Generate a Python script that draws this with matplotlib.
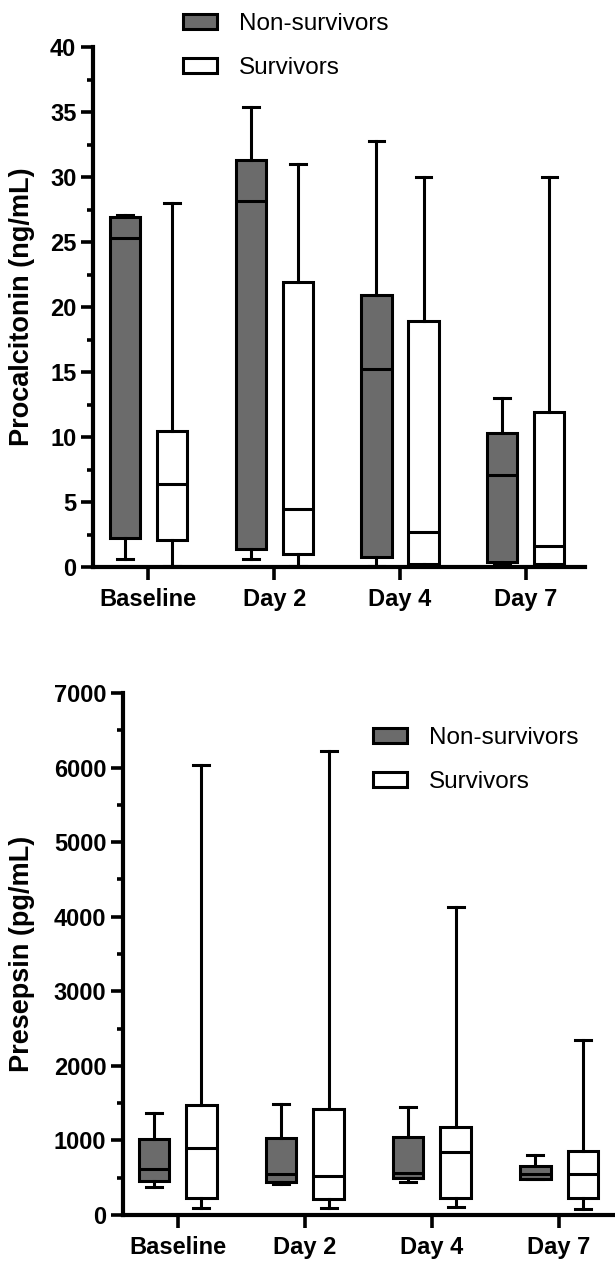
import numpy as np
import matplotlib
matplotlib.use("Agg")
from matplotlib import pyplot as plt
from matplotlib.patches import Patch
from matplotlib.ticker import MultipleLocator

plt.rcParams['font.family'] = ['Liberation Sans', 'DejaVu Sans']

days = ["Baseline", "Day 2", "Day 4", "Day 7"]
groups = ["Non-survivors", "Survivors"]

# Procalcitonin (ng/mL): min, Q1, median, Q3, max
pct_ns_min = [0.6, 0.65, 0.1, 0.2]
pct_ns_q1 = [2.2, 1.4, 0.8, 0.4]
pct_ns_med = [25.3, 28.15, 15.2, 7.1]
pct_ns_q3 = [26.9, 31.3, 20.9, 10.3]
pct_ns_max = [27.1, 35.4, 32.8, 13.0]
pct_s_min = [0.05, 0.05, 0.05, 0.05]
pct_s_q1 = [2.1, 1.0, 0.2, 0.2]
pct_s_med = [6.4, 4.5, 2.7, 1.6]
pct_s_q3 = [10.5, 21.9, 18.9, 11.9]
pct_s_max = [28.0, 31.0, 30.0, 30.0]

# Presepsin (pg/mL): min, Q1, median, Q3, max
pse_ns_min = [380, 420, 442, 478]
pse_ns_q1 = [455, 442, 500, 487]
pse_ns_med = [612, 545, 558, 545]
pse_ns_q3 = [1022, 1027, 1045, 656]
pse_ns_max = [1370, 1491, 1446, 799]
pse_s_min = [98, 89, 107, 85]
pse_s_q1 = [223, 214, 232, 232]
pse_s_med = [893, 527, 848, 545]
pse_s_q3 = [1473, 1424, 1183, 857]
pse_s_max = [6035, 6220, 4130, 2344]

GRAY = '#6b6b6b'
LW = 2.2


def stats(lo, q1, med, q3, hi):
    return [dict(whislo=a, q1=b, med=c, q3=d, whishi=e, fliers=[])
            for a, b, c, d, e in zip(lo, q1, med, q3, hi)]


def draw(ax, ns, s, ymax, major, minor, ylabel):
    x = np.arange(len(days))
    off = 0.187
    for st, pos, fc in [(ns, x - off, GRAY), (s, x + off, 'white')]:
        ax.bxp(st, positions=pos, widths=0.24, capwidths=0.125,
               patch_artist=True, showfliers=False,
               boxprops=dict(facecolor=fc, edgecolor='black', linewidth=LW),
               medianprops=dict(color='black', linewidth=LW),
               whiskerprops=dict(color='black', linewidth=LW),
               capprops=dict(color='black', linewidth=LW))
    ax.set_ylim(0, ymax)
    ax.yaxis.set_major_locator(MultipleLocator(major))
    ax.yaxis.set_minor_locator(MultipleLocator(minor))
    ax.set_xticks(x)
    ax.set_xticklabels(days, fontsize=17, fontweight='bold')
    for lab in ax.get_yticklabels():
        lab.set_fontsize(17)
        lab.set_fontweight('bold')
    ax.spines['top'].set_visible(False)
    ax.spines['right'].set_visible(False)
    ax.spines['left'].set_linewidth(3)
    ax.spines['bottom'].set_linewidth(3)
    ax.tick_params(axis='y', which='major', length=9, width=2.6, pad=3)
    ax.tick_params(axis='x', which='major', length=9, width=2.6, pad=6)
    ax.tick_params(axis='y', which='minor', length=4.5, width=2.6)
    ax.tick_params(axis='x', which='minor', length=0)
    ax.set_ylabel(ylabel, fontsize=19.5, fontweight='bold')


def add_legend(ax, fig, x0, y0):
    handles = [Patch(facecolor=GRAY, edgecolor='black', linewidth=LW),
               Patch(facecolor='white', edgecolor='black', linewidth=LW)]
    ax.legend(handles, groups, loc='upper left', frameon=False,
              bbox_to_anchor=(x0 / 615, 1 - y0 / 1262), bbox_transform=fig.transFigure,
              fontsize=17.5, handlelength=1.4, handleheight=0.6, handletextpad=0.9,
              labelspacing=0.9, borderpad=0, borderaxespad=0)


fig = plt.figure(figsize=(6.15, 12.62), dpi=100)
ax1 = fig.add_axes([93 / 615, 1 - 567 / 1262, 492 / 615, 520 / 1262])
ax2 = fig.add_axes([123 / 615, 1 - 1215 / 1262, 492 / 615, 522 / 1262])

draw(ax1, stats(pct_ns_min, pct_ns_q1, pct_ns_med, pct_ns_q3, pct_ns_max),
     stats(pct_s_min, pct_s_q1, pct_s_med, pct_s_q3, pct_s_max),
     40, 5, 2.5, "Procalcitonin (ng/mL)")
ax1.set_xlim(-0.44, 3.47)
ax1.yaxis.set_label_coords(-0.118, 0.5)

draw(ax2, stats(pse_ns_min, pse_ns_q1, pse_ns_med, pse_ns_q3, pse_ns_max),
     stats(pse_s_min, pse_s_q1, pse_s_med, pse_s_q3, pse_s_max),
     7000, 1000, 500, "Presepsin (pg/mL)")
ax2.set_xlim(-0.43, 3.44)
ax2.yaxis.set_label_coords(-0.179, 0.5)

add_legend(ax1, fig, 183, 13)
add_legend(ax2, fig, 373, 727)

fig.savefig("out.png", dpi=100)
